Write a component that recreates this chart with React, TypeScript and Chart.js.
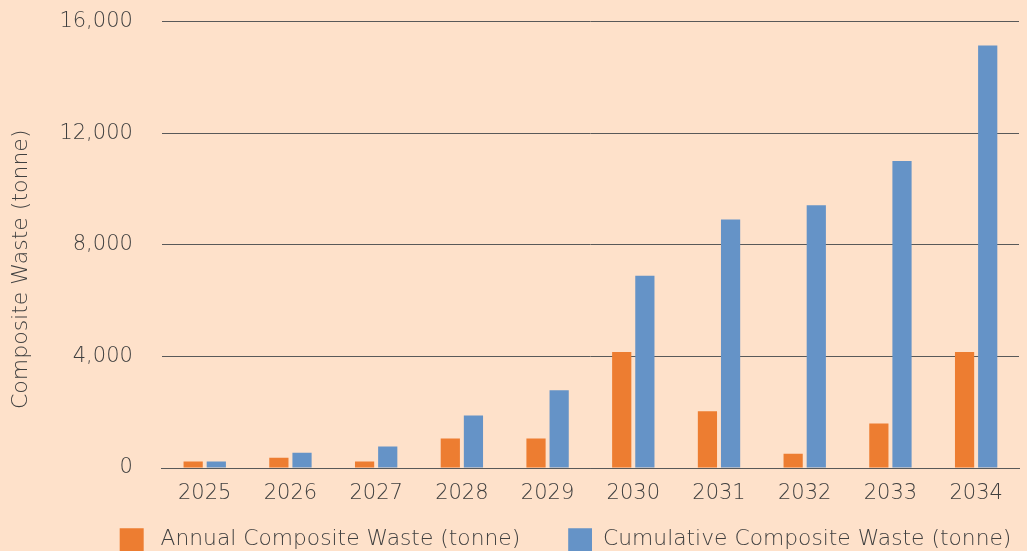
import React, { useEffect, useRef } from "react";
import { Chart, registerables } from "chart.js";

Chart.register(...registerables);

const years = ["2025", "2026", "2027", "2028", "2029", "2030", "2031", "2032", "2033", "2034"];
const annualWaste = [230, 370, 230, 1055, 1055, 4155, 2030, 515, 1595, 4155];
const cumulativeWaste = [230, 550, 770, 1885, 2785, 6895, 8910, 9415, 11000, 15145];
const yTicks = [0, 4000, 8000, 12000, 16000];
const seriesNames = ["Annual Composite Waste (tonne)", "Cumulative Composite Waste (tonne)"];
const seriesColors = ["#ED7D31", "#6593C7"];

const BG = "#FEE1CA";
const FONT = "'DejaVu Sans', sans-serif";
const TEXT = "#404040";
const W = 200;

// legend swatch geometry
const SW_W = 72;
const SW_BOX = 24;
const SW_GAPS = [6, 0];
const LEGEND_SHIFT_X = 31;
const LEGEND_SHIFT_Y = 17;

function makeSwatch(color: string, gap: number) {
  const c = document.createElement("canvas");
  c.width = SW_W;
  c.height = SW_BOX;
  const ctx = c.getContext("2d")!;
  ctx.fillStyle = color;
  ctx.fillRect(SW_W - gap - SW_BOX, 0, SW_BOX, SW_BOX);
  return c;
}

const bgPlugin = {
  id: "bg",
  beforeDraw(chart: any) {
    const { ctx, width, height } = chart;
    ctx.save();
    ctx.fillStyle = BG;
    ctx.fillRect(0, 0, width, height);
    ctx.restore();
  },
};

const legendShift = {
  id: "legendShift",
  afterLayout(chart: any) {
    const lg = chart.legend;
    if (!lg) return;
    lg.left += LEGEND_SHIFT_X;
    lg.right += LEGEND_SHIFT_X;
    lg.top += LEGEND_SHIFT_Y;
    lg.bottom += LEGEND_SHIFT_Y;
  },
};

export default function App() {
  const ref = useRef<HTMLCanvasElement | null>(null);
  useEffect(() => {
    document.body.style.margin = "0";
    document.body.style.background = BG;
    document.body.style.overflow = "hidden";
    const swatches = seriesColors.map((c, i) => makeSwatch(c, SW_GAPS[i]));
    const chart = new Chart(ref.current!, {
      type: "bar",
      data: {
        labels: years,
        datasets: [
          {
            label: seriesNames[0],
            data: annualWaste,
            backgroundColor: seriesColors[0],
            categoryPercentage: 0.54,
            barPercentage: 0.83,
          },
          {
            label: seriesNames[1],
            data: cumulativeWaste,
            backgroundColor: seriesColors[1],
            categoryPercentage: 0.54,
            barPercentage: 0.83,
          },
        ],
      },
      options: {
        responsive: false,
        animation: false,
        layout: { padding: { left: 8, right: 8, top: 0, bottom: 8 } },
        plugins: {
          tooltip: { enabled: false },
          legend: {
            position: "bottom",
            labels: {
              usePointStyle: true,
              pointStyleWidth: SW_W,
              boxHeight: SW_BOX,
              padding: 0,
              color: TEXT,
              font: { family: FONT, size: 21.8, weight: W },
              generateLabels: (chart: any) =>
                chart.data.datasets.map((ds: any, i: number) => ({
                  text: ds.label,
                  fillStyle: ds.backgroundColor,
                  strokeStyle: ds.backgroundColor,
                  lineWidth: 0,
                  pointStyle: swatches[i],
                  fontColor: TEXT,
                  datasetIndex: i,
                  hidden: false,
                })),
            },
          },
        },
        scales: {
          x: {
            grid: { display: false },
            border: { display: true, color: "#595959", width: 1 },
            ticks: { color: TEXT, font: { family: FONT, size: 21, weight: W }, padding: 5 },
          },
          y: {
            min: 0,
            max: 16000,
            afterBuildTicks(axis: any) {
              axis.ticks = yTicks.map((v) => ({ value: v }));
            },
            grid: {
              color: "#595959",
              lineWidth: 1,
              drawTicks: true,
              tickLength: 20,
              tickColor: "rgba(0,0,0,0)",
            },
            border: { display: false },
            ticks: {
              color: TEXT,
              font: { family: FONT, size: 21, weight: W },
              padding: 9,
              callback: (v: any) => Number(v).toLocaleString("en-US"),
            },
            title: {
              display: true,
              text: "Composite Waste (tonne)       ",
              color: TEXT,
              font: { family: FONT, size: 22, weight: W },
              padding: { top: 0, bottom: 16 },
            },
          },
        },
      },
      plugins: [bgPlugin, legendShift],
    });
    return () => chart.destroy();
  }, []);
  return <canvas ref={ref} width={1027} height={551} style={{ display: "block" }} />;
}
